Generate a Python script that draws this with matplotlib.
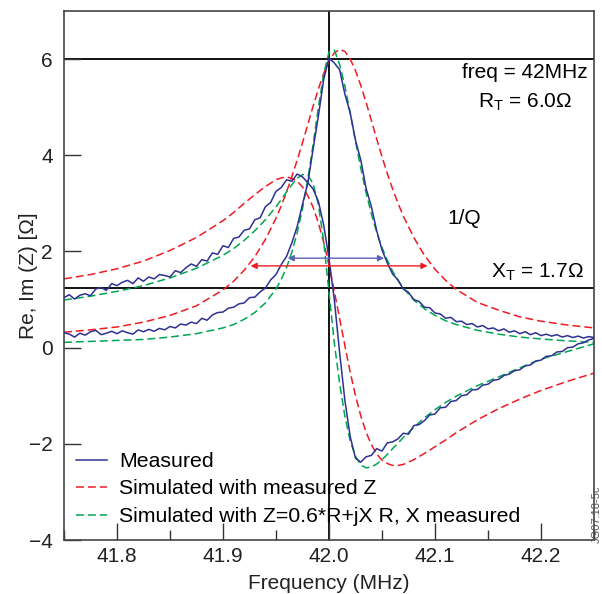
import matplotlib
matplotlib.use("Agg")
import matplotlib.pyplot as plt
from matplotlib.ticker import MultipleLocator

plt.rcParams['font.family'] = ['Liberation Sans', 'DejaVu Sans']
plt.rcParams['mathtext.default'] = 'regular'

# ---------------- data ----------------
# measured (noisy) curves, 0.005 MHz steps
freq_meas = [round(41.75 + 0.005 * i, 3) for i in range(101)]
re_meas = [0.31, 0.28, 0.22, 0.30, 0.26, 0.33, 0.36, 0.27, 0.30, 0.34,
           0.29, 0.35, 0.31, 0.28, 0.37, 0.33, 0.38, 0.34, 0.40, 0.37,
           0.44, 0.41, 0.49, 0.47, 0.53, 0.50, 0.61, 0.57, 0.68, 0.73,
           0.74, 0.82, 0.84, 0.91, 0.93, 1.04, 1.05, 1.16, 1.24, 1.41,
           1.52, 1.73, 1.90, 2.18, 2.52, 2.98, 3.42, 4.13, 4.82, 5.58,
           6.02, 5.92, 5.78, 5.27, 4.88, 4.31, 3.90, 3.31, 2.93, 2.43,
           2.03, 1.76, 1.53, 1.41, 1.22, 1.15, 1.00, 0.96, 0.84, 0.83,
           0.72, 0.70, 0.61, 0.63, 0.54, 0.55, 0.48, 0.50, 0.43, 0.46,
           0.39, 0.41, 0.35, 0.39, 0.32, 0.35, 0.29, 0.33, 0.27, 0.31,
           0.25, 0.28, 0.24, 0.27, 0.22, 0.25, 0.21, 0.24, 0.20, 0.23,
           0.21]
im_meas = [1.04, 1.10, 1.01, 1.09, 1.12, 1.08, 1.22, 1.25, 1.19, 1.33,
           1.29, 1.36, 1.40, 1.33, 1.45, 1.38, 1.47, 1.43, 1.52, 1.50,
           1.47, 1.60, 1.56, 1.66, 1.74, 1.69, 1.83, 1.80, 1.97, 1.94,
           2.12, 2.08, 2.27, 2.30, 2.44, 2.47, 2.66, 2.70, 2.93, 3.02,
           3.25, 3.33, 3.49, 3.46, 3.61, 3.55, 3.43, 3.30, 3.04, 2.55,
           1.85, 1.00, -0.10, -1.10, -1.85, -2.30, -2.38, -2.27, -2.24, -2.10,
           -2.15, -1.98, -1.96, -1.90, -1.78, -1.80, -1.62, -1.60, -1.52, -1.40,
           -1.38, -1.25, -1.24, -1.12, -1.10, -1.00, -0.98, -0.88, -0.87, -0.78,
           -0.76, -0.68, -0.66, -0.58, -0.55, -0.48, -0.46, -0.38, -0.36, -0.28,
           -0.26, -0.18, -0.17, -0.09, -0.08, 0.00, 0.01, 0.08, 0.10, 0.16,
           0.19]

# simulated curves
freq_sim = [41.75, 41.775, 41.80, 41.825, 41.85, 41.875, 41.90, 41.91, 41.92,
            41.93, 41.94, 41.95, 41.955, 41.96, 41.965, 41.97, 41.975, 41.98,
            41.985, 41.99, 41.995, 42.00, 42.005, 42.01, 42.015, 42.02, 42.025,
            42.03, 42.035, 42.04, 42.045, 42.05, 42.055, 42.06, 42.065, 42.07,
            42.08, 42.09, 42.10, 42.11, 42.12, 42.14, 42.16, 42.18, 42.20,
            42.225, 42.25]
re_sim_red = [0.32, 0.37, 0.43, 0.53, 0.67, 0.87, 1.20, 1.38, 1.61, 1.89, 2.25,
              2.69, 2.95, 3.24, 3.56, 3.90, 4.26, 4.64, 5.02, 5.38, 5.70, 5.96,
              6.13, 6.20, 6.16, 6.00, 5.76, 5.45, 5.10, 4.72, 4.34, 3.97, 3.62,
              3.30, 3.01, 2.74, 2.29, 1.92, 1.63, 1.40, 1.21, 0.94, 0.78, 0.64,
              0.55, 0.47, 0.41]
im_sim_red = [1.43, 1.52, 1.64, 1.80, 2.02, 2.29, 2.64, 2.81, 3.00, 3.18, 3.35,
              3.49, 3.53, 3.55, 3.52, 3.46, 3.34, 3.16, 2.92, 2.59, 2.19, 1.71,
              1.17, 0.61, 0.04, -0.51, -1.00, -1.42, -1.76, -2.02, -2.21, -2.34,
              -2.41, -2.45, -2.45, -2.43, -2.33, -2.20, -2.06, -1.92, -1.77,
              -1.50, -1.27, -1.07, -0.89, -0.70, -0.53]
re_sim_green = [0.11, 0.13, 0.15, 0.17, 0.22, 0.29, 0.41, 0.48, 0.59, 0.73, 0.93,
                1.22, 1.42, 1.67, 1.99, 2.39, 2.89, 3.50, 4.22, 5.00, 5.69, 6.15,
                6.19, 5.89, 5.44, 4.88, 4.29, 3.73, 3.22, 2.78, 2.40, 2.08, 1.82,
                1.59, 1.40, 1.24, 0.99, 0.81, 0.67, 0.56, 0.48, 0.36, 0.28, 0.22,
                0.18, 0.14, 0.11]
im_sim_green = [0.99, 1.07, 1.17, 1.29, 1.45, 1.65, 1.92, 2.06, 2.23, 2.43, 2.66,
                2.93, 3.08, 3.24, 3.39, 3.52, 3.60, 3.59, 3.41, 2.97, 2.21, 1.15,
                0.10, -0.74, -1.43, -1.94, -2.26, -2.44, -2.50, -2.48, -2.42,
                -2.33, -2.22, -2.10, -1.99, -1.87, -1.66, -1.46, -1.29, -1.14,
                -1.01, -0.79, -0.61, -0.42, -0.24, -0.08, 0.08]

# reference lines and width arrows
freq_res = 42.0
r_t = 6.0
x_t_line = 1.25
arrow_meas = [41.961, 42.052, 1.86]   # start, end, level
arrow_sim = [41.926, 42.093, 1.70]

legend_labels = ["Measured", "Simulated with measured Z",
                 "Simulated with Z=0.6*R+jX R, X measured"]

# ---------------- style ----------------
c_blue = '#2E3192'
c_red = '#ED1C24'
c_green = '#00A651'
c_arrow_blue = '#5B63B8'
dash = (5.2, 2.6)

fig = plt.figure(figsize=(6.02, 5.94), dpi=100)
ax = fig.add_axes([64 / 602, 54 / 594, 530 / 602, 529 / 594])

ax.axhline(r_t, color='black', lw=1.3, zorder=1)
ax.axhline(x_t_line, color='black', lw=1.3, zorder=1)
ax.axvline(freq_res, color='black', lw=1.3, zorder=1)

l_red, = ax.plot(freq_sim, re_sim_red, color=c_red, lw=1.1, dashes=dash, zorder=2)
ax.plot(freq_sim, im_sim_red, color=c_red, lw=1.1, dashes=dash, zorder=2)
l_green, = ax.plot(freq_sim, re_sim_green, color=c_green, lw=1.1, dashes=dash, zorder=2)
ax.plot(freq_sim, im_sim_green, color=c_green, lw=1.1, dashes=dash, zorder=2)
l_blue, = ax.plot(freq_meas, re_meas, color=c_blue, lw=1.1, zorder=3)
ax.plot(freq_meas, im_meas, color=c_blue, lw=1.1, zorder=3)

ax.annotate('', xy=(arrow_meas[0], arrow_meas[2]), xytext=(arrow_meas[1], arrow_meas[2]),
            arrowprops=dict(arrowstyle='<|-|>', color=c_arrow_blue, lw=1.0,
                            mutation_scale=9, shrinkA=0, shrinkB=0), zorder=4)
ax.annotate('', xy=(arrow_sim[0], arrow_sim[2]), xytext=(arrow_sim[1], arrow_sim[2]),
            arrowprops=dict(arrowstyle='<|-|>', color=c_red, lw=1.0,
                            mutation_scale=9, shrinkA=0, shrinkB=0), zorder=4)

fs = 15
ax.text(42.185, 5.73, 'freq = 42MHz', fontsize=fs, ha='center', va='center')
ax.text(42.185, 5.11, 'R$_T$ = 6.0\u03a9', fontsize=fs, ha='center', va='center')
ax.text(42.128, 2.68, '1/Q', fontsize=fs, ha='center', va='center')
ax.text(42.197, 1.57, 'X$_T$ = 1.7\u03a9', fontsize=fs, ha='center', va='center')

ax.set_xlim(41.75, 42.25)
ax.set_ylim(-4, 7)
ax.xaxis.set_minor_locator(MultipleLocator(0.05))
ax.yaxis.set_major_locator(MultipleLocator(2))
ax.set_xticks([41.8, 41.9, 42.0, 42.1, 42.2])
ax.set_xticklabels(['41.8', '41.9', '42.0', '42.1', '42.2'])
ax.tick_params(axis='both', which='major', direction='in', length=12, width=1.0,
               labelsize=fs, colors='#333333', labelcolor='#222222')
ax.tick_params(axis='x', which='major', pad=5)
ax.tick_params(axis='y', which='major', pad=8)
ax.tick_params(axis='x', which='minor', direction='in', length=7, width=1.0, colors='#333333')
for s in ax.spines.values():
    s.set_color('#444444')
    s.set_linewidth(1.2)

ax.set_xlabel('Frequency (MHz)', fontsize=fs, color='#222222', labelpad=6)
ax.set_ylabel('Re, Im (Z) [\u03a9]', fontsize=fs, color='#222222')
ax.yaxis.set_label_coords(-0.05, 0.5)

ax.legend([l_blue, l_red, l_green], legend_labels, loc='upper left',
          bbox_to_anchor=((75.5 - 64) / 530, (540 - 452) / 529), frameon=False,
          fontsize=15.3, handlelength=1.5, handletextpad=0.55, labelspacing=0.4,
          borderpad=0, borderaxespad=0)

fig.text(1.0, 0.135, 'JG07.18-5c', rotation=90, fontsize=8, color='#555555',
         ha='right', va='center')

fig.savefig('out.png', dpi=100)
